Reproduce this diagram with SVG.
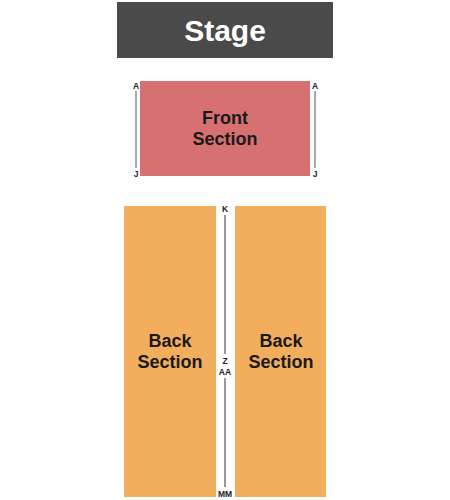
<svg xmlns="http://www.w3.org/2000/svg" width="450" height="500" viewBox="0 0 450 500">
<style>
.lbl{font-family:"Liberation Sans",Arial,sans-serif;font-weight:bold;text-anchor:middle}
.sec{font-size:18px;fill:#1a1a1a}
.row{font-size:8.5px;fill:#222}
.ln{stroke:#555;stroke-width:1}
.ln2{stroke:#999;stroke-width:2}
</style>
<rect width="450" height="500" fill="#ffffff"/>
<g id="stage">
<rect x="117" y="2" width="216" height="56" fill="#4a4a4a"/>
<text class="lbl" x="225" y="41" font-size="30" fill="#ffffff">Stage</text>
</g>
<g id="front">
<rect x="140" y="81" width="170" height="95" fill="#d77070"/>
<text class="lbl sec" x="225" y="124">Front</text>
<text class="lbl sec" x="225" y="145">Section</text>
</g>
<g id="back-left">
<rect x="124" y="206" width="92" height="291" fill="#f2ae5c"/>
<text class="lbl sec" x="170" y="347">Back</text>
<text class="lbl sec" x="170" y="368">Section</text>
</g>
<g id="back-right">
<rect x="235" y="206" width="91" height="291" fill="#f2ae5c"/>
<text class="lbl sec" x="281" y="347">Back</text>
<text class="lbl sec" x="281" y="368">Section</text>
</g>
<g id="connectors">
<line class="ln" x1="136" y1="91" x2="136" y2="168"/>
<line class="ln" x1="315" y1="91" x2="315" y2="168"/>
<line class="ln2" x1="225" y1="215" x2="225" y2="354"/>
<line class="ln2" x1="225" y1="378" x2="225" y2="487"/>
</g>
<g id="row-labels">
<text class="lbl row" x="136" y="89">A</text>
<text class="lbl row" x="136" y="177">J</text>
<text class="lbl row" x="315" y="89">A</text>
<text class="lbl row" x="315" y="177">J</text>
<text class="lbl row" x="225" y="212">K</text>
<text class="lbl row" x="225" y="364">Z</text>
<text class="lbl row" x="225" y="375">AA</text>
<text class="lbl row" x="225" y="497">MM</text>
</g>
</svg>
